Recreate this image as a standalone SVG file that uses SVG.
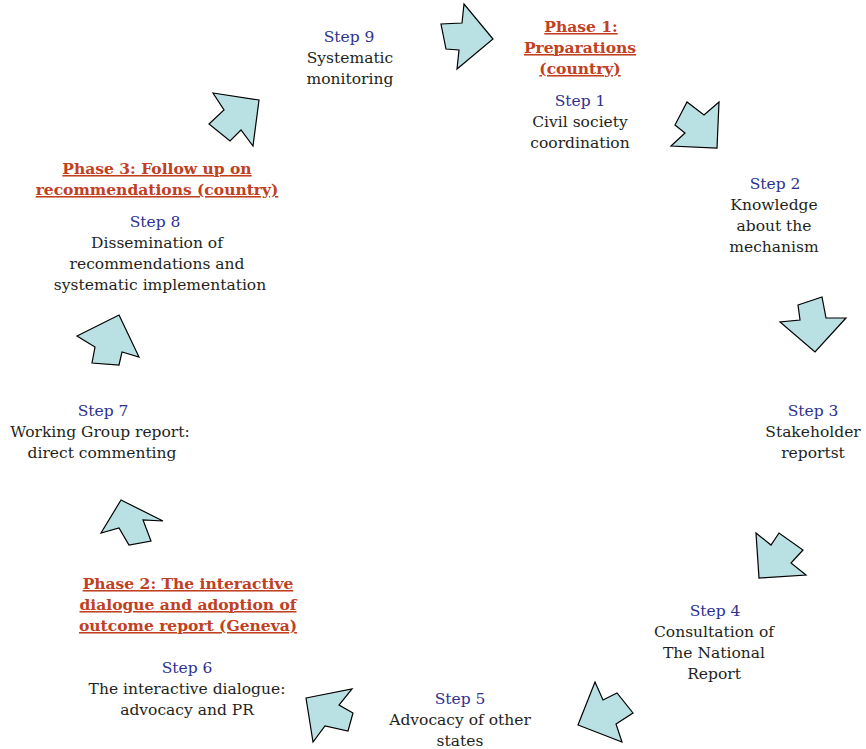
<svg xmlns="http://www.w3.org/2000/svg" width="866" height="749" viewBox="0 0 866 749">
<style>
text{font-family:"DejaVu Serif","Liberation Serif",serif;font-size:15.5px;text-anchor:middle;fill:#231f20}
.s{fill:#2e3192}
.p{fill:#c1401f;font-weight:bold;text-decoration:underline}
.a{fill:#b9e0e3;stroke:#000;stroke-width:1.2;stroke-linejoin:miter}
</style>
<rect width="866" height="749" fill="#fff"/>
<g id="connectors">
<polygon class="a" points="464,4 462,23 441,24 446,49 459,50 457,69 493,39"/>
<polygon class="a" points="719,102 704,115 687,102 675,125 685,133 671,146 717,148"/>
<polygon class="a" points="798,305 822,297 826,318 846,318 815,352 780,322 800,320"/>
<polygon class="a" points="756,533 771,545 779,533 803,550 791,563 806,575 759,578"/>
<polygon class="a" points="595,682 603,700 617,693 633,713 616,724 622,742 578,725"/>
<polygon class="a" points="306,698 352,689 339,705 353,713 348,731 325,726 313,742"/>
<polygon class="a" points="121,500 163,521 143,520 151,541 129,545 119,528 101,533"/>
<polygon class="a" points="119,315 139,357 122,352 119,365 92,363 95,347 77,336"/>
<polygon class="a" points="213,93 259,100 253,146 241,130 230,141 209,124 224,110"/>
</g>
<g id="phase1">
<text class="p" x="581" y="32">Phase 1:</text>
<text class="p" x="580" y="53">Preparations</text>
<text class="p" x="580" y="74">(country)</text>
</g>
<g id="step1">
<text class="s" x="580" y="106">Step 1</text>
<text x="580" y="127">Civil society</text>
<text x="580" y="148">coordination</text>
</g>
<g id="step2">
<text class="s" x="775" y="189">Step 2</text>
<text x="774" y="210">Knowledge</text>
<text x="774" y="231">about the</text>
<text x="774" y="252">mechanism</text>
</g>
<g id="step3">
<text class="s" x="813" y="416">Step 3</text>
<text x="813" y="437">Stakeholder</text>
<text x="813" y="458">reportst</text>
</g>
<g id="step4">
<text class="s" x="715" y="616">Step 4</text>
<text x="714" y="637">Consultation of</text>
<text x="714" y="658">The National</text>
<text x="714" y="679">Report</text>
</g>
<g id="step5">
<text class="s" x="460" y="704">Step 5</text>
<text x="460" y="725">Advocacy of other</text>
<text x="460" y="746">states</text>
</g>
<g id="phase2">
<text class="p" x="188" y="589">Phase 2: The interactive</text>
<text class="p" x="188" y="610">dialogue and adoption of</text>
<text class="p" x="188" y="631">outcome report (Geneva)</text>
</g>
<g id="step6">
<text class="s" x="187" y="673">Step 6</text>
<text x="187" y="694">The interactive dialogue:</text>
<text x="187" y="715">advocacy and PR</text>
</g>
<g id="step7">
<text class="s" x="103" y="416">Step 7</text>
<text x="100" y="437">Working Group report:</text>
<text x="102" y="458">direct commenting</text>
</g>
<g id="phase3">
<text class="p" x="157" y="174">Phase 3: Follow up on</text>
<text class="p" x="157" y="195">recommendations (country)</text>
</g>
<g id="step8">
<text class="s" x="155" y="227">Step 8</text>
<text x="157" y="248">Dissemination of</text>
<text x="157" y="269">recommendations and</text>
<text x="160" y="290">systematic implementation</text>
</g>
<g id="step9">
<text class="s" x="349" y="42">Step 9</text>
<text x="350" y="63">Systematic</text>
<text x="350" y="84">monitoring</text>
</g>
</svg>
